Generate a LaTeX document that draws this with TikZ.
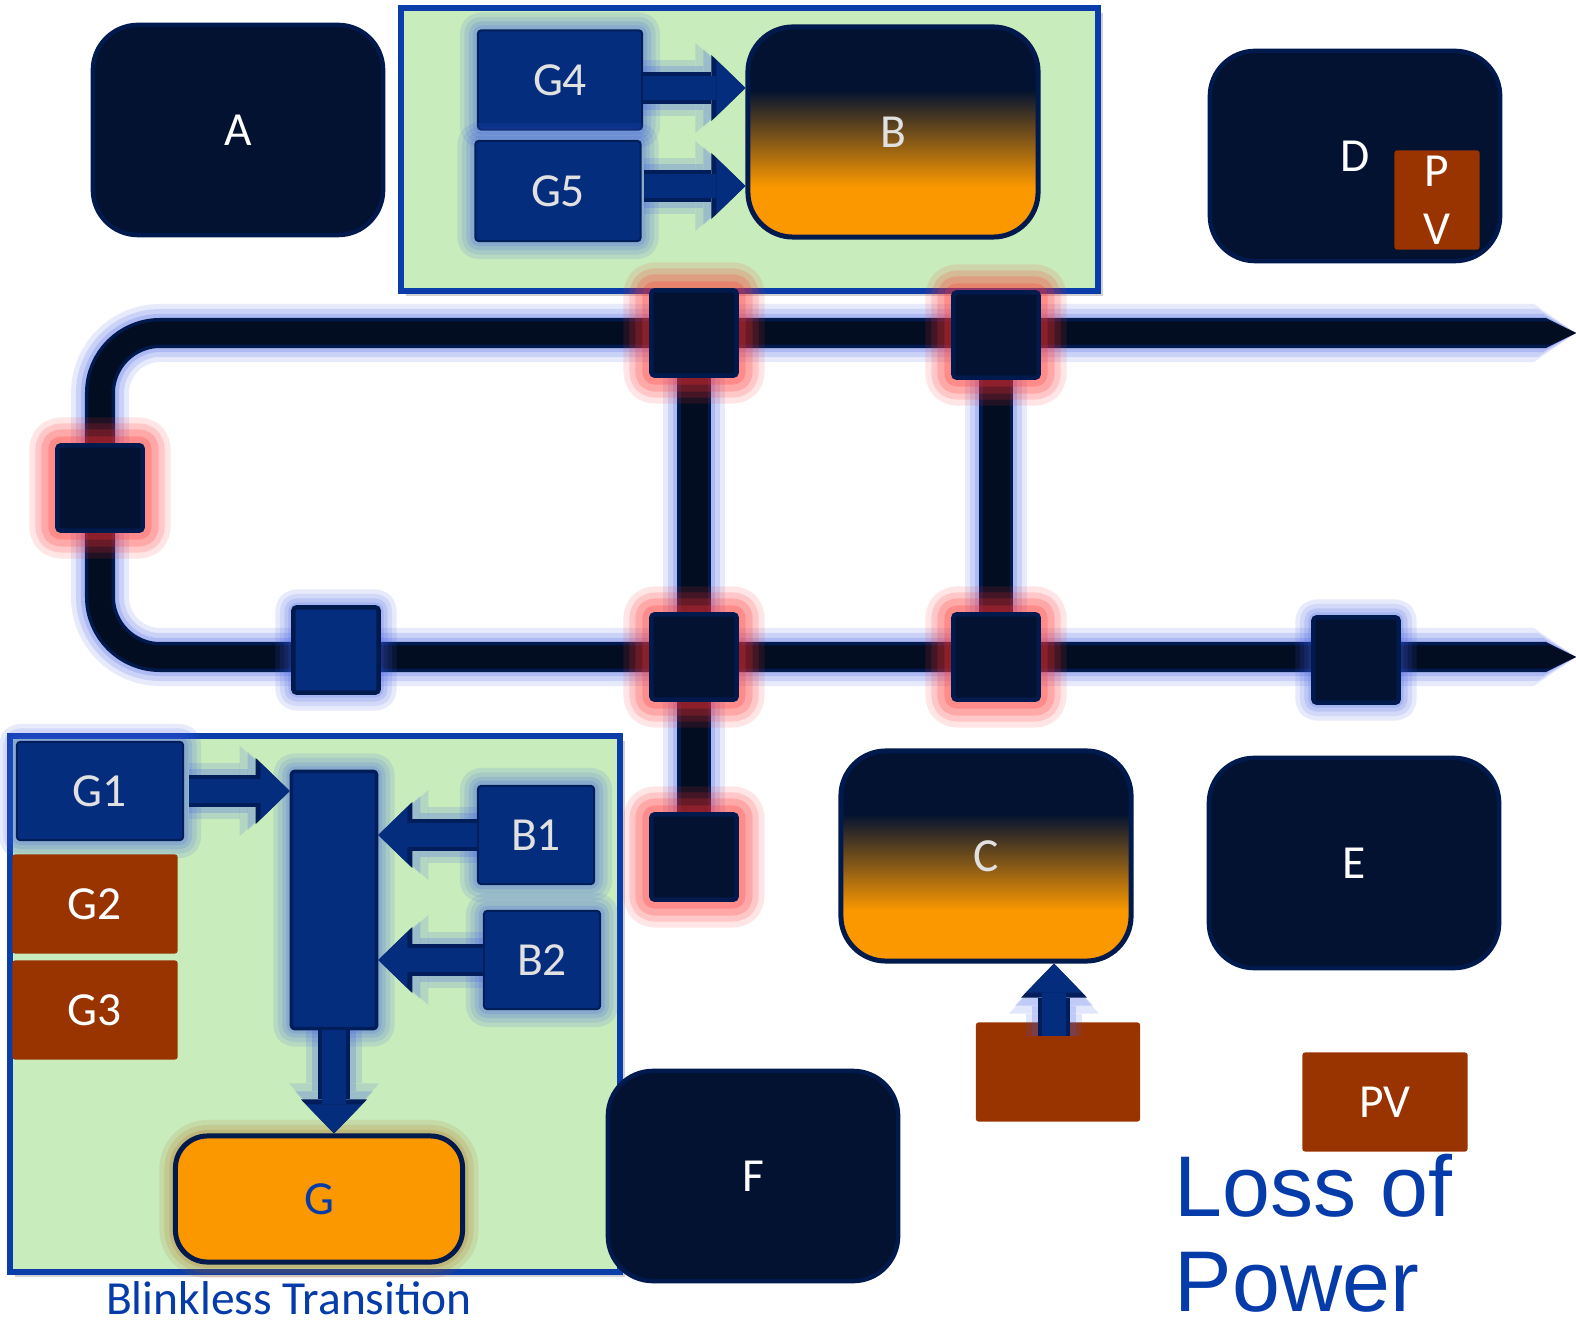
\documentclass[tikz,border=0pt]{standalone}
\usepackage{fontspec}
\setmainfont{Carlito}
\newfontfamily\lossfont{Liberation Sans}
\usetikzlibrary{arrows.meta,calc}
\definecolor{navy}{HTML}{021230}
\definecolor{navyedge}{HTML}{001A4D}
\definecolor{businner}{HTML}{020D22}
\definecolor{bluebox}{HTML}{052D7D}
\definecolor{blueedge}{HTML}{021E5A}
\definecolor{brownbox}{HTML}{993300}
\definecolor{lgreen}{HTML}{C8ECBC}
\definecolor{frameblue}{HTML}{0A3CAA}
\definecolor{orangec}{HTML}{FB9800}
\definecolor{glowblue}{HTML}{3C5AE6}
\definecolor{glowred}{HTML}{FF3030}
\definecolor{glowor}{HTML}{B46414}
\definecolor{textblue}{HTML}{053CAA}
\definecolor{lgray}{HTML}{E1E1E1}
\pgfdeclareverticalshading{navyorange}{100bp}{color(0bp)=(orangec); color(37bp)=(orangec); color(60bp)=(navy); color(100bp)=(navy)}
\pgfdeclarelayer{paperlayer}
\pgfdeclarelayer{lineslayer}
\pgfsetlayers{paperlayer,lineslayer,main}
\begin{document}
\begin{tikzpicture}[x=0.01cm,y=-0.01cm,
  lab/.style={font=\fontsize{13.5}{16}\selectfont},
  blueglow/.style={
    preaction={draw=glowblue, opacity=0.12, line width=0.36cm, line join=round},
    preaction={draw=glowblue, opacity=0.12, line width=0.27cm, line join=round},
    preaction={draw=glowblue, opacity=0.14, line width=0.18cm, line join=round},
    preaction={draw=glowblue, opacity=0.16, line width=0.10cm, line join=round}},
  redglow/.style={
    preaction={draw=glowred, opacity=0.12, line width=0.56cm, line join=round},
    preaction={draw=glowred, opacity=0.16, line width=0.44cm, line join=round},
    preaction={draw=glowred, opacity=0.2, line width=0.32cm, line join=round},
    preaction={draw=glowred, opacity=0.24, line width=0.18cm, line join=round}},
  orglow/.style={
    preaction={draw=glowor, opacity=0.12, line width=0.32cm, line join=round},
    preaction={draw=glowor, opacity=0.15, line width=0.22cm, line join=round},
    preaction={draw=glowor, opacity=0.18, line width=0.12cm, line join=round}},
  framebox/.style={rectangle, fill=lgreen, draw=frameblue, line width=0.06cm, inner sep=0pt,
    preaction={fill=black, opacity=0.18, transform canvas={xshift=0.05cm,yshift=-0.05cm}}},
  darkbox/.style={rectangle, rounded corners=0.45cm, fill=navy, draw=navyedge, line width=0.045cm,
    text=white, lab, minimum width=2.9cm, minimum height=2.1cm, inner sep=0pt},
  gradbox/.style={darkbox, shade, shading=navyorange, text=lgray, line width=0.05cm},
  bluebx/.style={rectangle, fill=bluebox, draw=blueedge, line width=0.02cm, rounded corners=0.03cm,
    text=lgray, lab, inner sep=0pt, blueglow},
  brownbx/.style={rectangle, fill=brownbox, rounded corners=0.025cm, text=white, lab, inner sep=0pt},
  switchbx/.style={rectangle, fill=navy, draw=navyedge, line width=0.045cm, rounded corners=0.03cm,
    minimum size=0.85cm, inner sep=0pt},
  barrow/.style={
    preaction={draw=glowblue, opacity=0.15, line width=0.56cm, -{Triangle[width=0.90cm,length=0.50cm,line width=0pt]}},
    preaction={draw=glowblue, opacity=0.2, line width=0.44cm, -{Triangle[width=0.78cm,length=0.42cm,line width=0pt]}},
    preaction={draw=blueedge, line width=0.32cm, -{Triangle[width=0.66cm,length=0.34cm,line width=0pt]}},
    draw=bluebox, line width=0.24cm, -{Triangle[width=0.56cm,length=0.29cm,line width=0pt]}},
  busmain/.style={
    preaction={draw=glowblue, opacity=0.12, line width=0.58cm,
      {Triangle[width=0.58cm,length=0.42cm,line width=0pt]}-{Triangle[width=0.58cm,length=0.42cm,line width=0pt]}},
    preaction={draw=glowblue, opacity=0.16, line width=0.48cm,
      {Triangle[width=0.48cm,length=0.38cm,line width=0pt]}-{Triangle[width=0.48cm,length=0.38cm,line width=0pt]}},
    preaction={draw=glowblue, opacity=0.2, line width=0.38cm,
      {Triangle[width=0.38cm,length=0.33cm,line width=0pt]}-{Triangle[width=0.38cm,length=0.33cm,line width=0pt]}},
    preaction={draw=navyedge, line width=0.30cm,
      {Triangle[width=0.30cm,length=0.30cm,line width=0pt]}-{Triangle[width=0.30cm,length=0.30cm,line width=0pt]}},
    draw=businner, line width=0.23cm,
      {Triangle[width=0.23cm,length=0.26cm,line width=0pt]}-{Triangle[width=0.23cm,length=0.26cm,line width=0pt]}},
  vline/.style={
    preaction={draw=glowblue, opacity=0.12, line width=0.62cm},
    preaction={draw=glowblue, opacity=0.16, line width=0.52cm},
    preaction={draw=glowblue, opacity=0.2, line width=0.42cm},
    preaction={draw=navyedge, line width=0.34cm},
    draw=businner, line width=0.27cm}
]
\begin{pgfonlayer}{paperlayer}
\fill[white] (0,0) rectangle (1576,1325);
\end{pgfonlayer}
\useasboundingbox (0,0) rectangle (1576,1325);

% frames
\node[framebox, minimum width=6.97cm, minimum height=2.83cm] (topframe) at (749.5,149.5) {};
\node[framebox, minimum width=6.10cm, minimum height=5.36cm] (botframe) at (315,1004) {};

% top row
\node[darkbox] (A) at (238,130) {A};
\node[bluebx, minimum width=1.64cm, minimum height=0.99cm] (G4) at (560,80) {G4};
\node[bluebx, minimum width=1.65cm, minimum height=1.00cm] (G5) at (558,191) {G5};
\node[gradbox] (B) at (893,132) {B};
\node[darkbox] (D) at (1355,156) {D};
\node[brownbx, minimum width=0.85cm, minimum height=0.99cm, align=center,
      font=\fontsize{13.5}{16.5}\selectfont] (PVs) at (1437,200) {P\\[0.0cm]V};

% bottom-left group
\node[bluebx, minimum width=1.66cm, minimum height=0.98cm] (G1) at (100,791) {G1};
\node[brownbx, minimum width=1.65cm, minimum height=0.99cm] (G2) at (95,904) {G2};
\node[brownbx, minimum width=1.65cm, minimum height=0.99cm] (G3) at (95,1010) {G3};
\node[bluebx, minimum width=0.85cm, minimum height=2.57cm, line width=0.035cm] (mid) at (334,900) {};
\node[bluebx, minimum width=1.16cm, minimum height=0.98cm] (B1) at (536,835) {B1};
\node[bluebx, minimum width=1.16cm, minimum height=0.98cm] (B2) at (542,960) {B2};
\node[rectangle, rounded corners=0.32cm, fill=orangec, draw=navyedge, line width=0.05cm,
      minimum width=2.87cm, minimum height=1.26cm, text=textblue, lab, orglow] (G) at (319,1199) {G};
\node[text=textblue, lab, inner sep=0pt] (bt) at (289,1298) {Blinkless Transition};

% other boxes
\node[darkbox] (F) at (753,1176) {F};
\node[gradbox] (C) at (986,856) {C};
\node[darkbox] (E) at (1354,863) {E};
\node[brownbx, minimum width=1.64cm, minimum height=0.99cm] (CB) at (1058,1072) {};
\node[brownbx, minimum width=1.65cm, minimum height=0.99cm] (PV) at (1385,1102) {PV};
\node[anchor=base west, align=left, text=textblue, inner sep=0pt,
      font=\lossfont\fontsize{24.5}{27}\selectfont] (lp) at (1174,1311) {Loss of\\Power};

% switches
\node[switchbx, redglow] (S1) at (694,333) {};
\node[switchbx, redglow] (S2) at (996,335) {};
\node[switchbx, redglow] (S3) at (100,488) {};
\node[switchbx, fill=bluebox, blueglow] (S4) at (336,650) {};
\node[switchbx, redglow] (S5) at (694,657) {};
\node[switchbx, redglow] (S6) at (996,657) {};
\node[switchbx, blueglow] (S7) at (1356,660) {};
\node[switchbx, redglow] (S8) at (694,857) {};

% bus coordinates
\coordinate (tipT) at (1576,333);
\coordinate (cornTL) at (100,333);
\coordinate (cornBL) at (100,657);
\coordinate (tipB) at (1576,657);

\begin{pgfonlayer}{lineslayer}
\draw[busmain, rounded corners=0.6cm] (tipT) -- (cornTL) -- (cornBL) -- (tipB);
\draw[vline] (S1) -- (S5);
\draw[vline] (S5) -- (S8);
\draw[vline] (S2) -- (S6);
\end{pgfonlayer}

% block arrows
\coordinate (a4) at ($(G4.east)+(0,8)$);
\coordinate (a5) at ($(G5.east)+(2,-5)$);
\draw[barrow] (a4) -- (a4 -| B.west);
\draw[barrow] (a5) -- (a5 -| B.west);
\coordinate (a1) at ($(G1.east)+(5,0)$);
\draw[barrow] (a1) -- (a1 -| mid.west);
\draw[barrow] (B1.west) -- (B1.west -| mid.east);
\draw[barrow] (B2.west) -- (B2.west -| mid.east);
\draw[barrow] (mid.south) -- (mid.south |- G.north);
\coordinate (ua) at ($(CB.north)+(-4,14)$);
\draw[barrow] (ua) -- (ua |- C.south);
\end{tikzpicture}
\end{document}
